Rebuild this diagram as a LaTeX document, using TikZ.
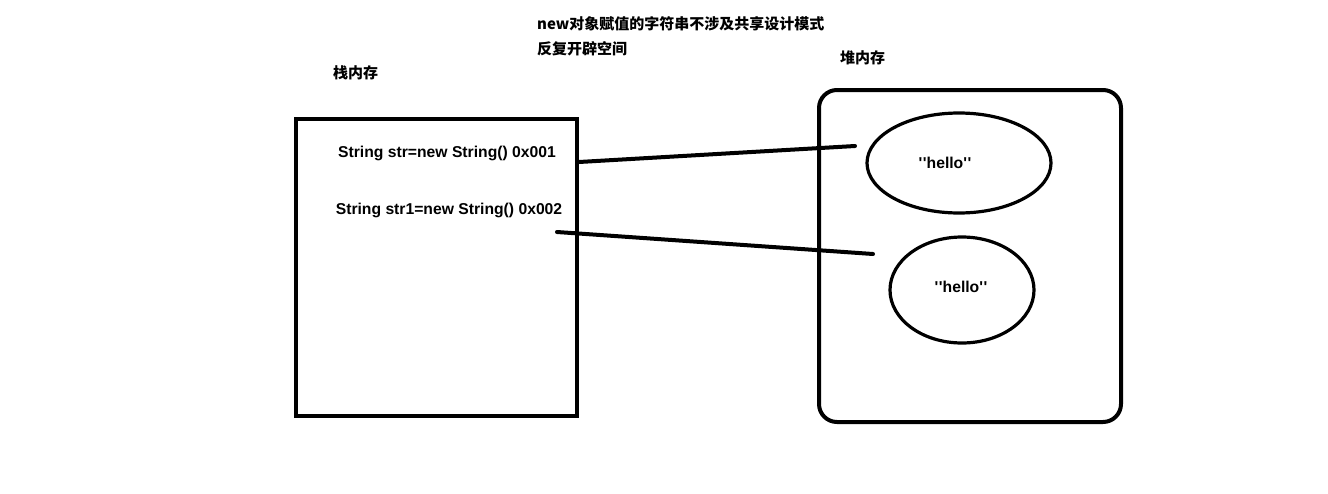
\documentclass[tikz,border=0pt]{standalone}
\usepackage{fontspec}
\setmainfont{Liberation Sans}[Ligatures=TeXOff]
\newfontfamily\cjk{Noto Sans CJK SC}
\usetikzlibrary{shapes.geometric}
\newcommand{\sq}{\char39\kern0.5pt\char39}
\begin{document}
\begin{tikzpicture}[x=1pt,y=-1pt,
  heap ell/.style={draw,ellipse,line width=3.2pt,inner sep=0pt},
  code/.style={font=\bfseries\fontsize{15.7}{17}\selectfont},
  cjklabel/.style={font=\cjk\bfseries\fontsize{15}{17}\selectfont,anchor=west,inner sep=0pt},
  conn/.style={line width=4pt,line cap=round}]
\useasboundingbox (0,0) rectangle (1328,493);
\fill[white] (0,0) rectangle (1328,493);
% titles
\node[cjklabel] (t1) at (537,24) {new对象赋值的字符串不涉及共享设计模式};
\node[cjklabel] (t2) at (537,49) {反复开辟空间};
\node[cjklabel] (stk) at (333,73) {栈内存};
\node[cjklabel] (hp) at (840,58) {堆内存};
% stack box
\node[draw,line width=4pt,minimum width=281pt,minimum height=297pt,inner sep=0pt] (stack) at (436.5,267.5) {};
% heap box
\draw[line width=4pt,rounded corners=18pt] (819,90) rectangle (1121,422);
% code lines
\node[code] (s1) at (447,153) {String str=new String() 0x001};
\node[code] (s2) at (449,210) {String str1=new String() 0x002};
% ellipses
\node[heap ell,minimum width=184pt,minimum height=100pt] (e1) at (959,163) {};
\node[code] (h1) at (945,163) {\sq hello\sq};
\node[heap ell,minimum width=144pt,minimum height=106pt] (e2) at (962,290) {};
\node[code] (h2) at (961,287) {\sq hello\sq};
% connectors
\coordinate (a1) at (579,162);
\coordinate (b1) at (855,146);
\coordinate (a2) at (557,232);
\coordinate (b2) at (873,254);
\draw[conn] (a1) -- (b1);
\draw[conn] (a2) -- (b2);
\end{tikzpicture}
\end{document}
